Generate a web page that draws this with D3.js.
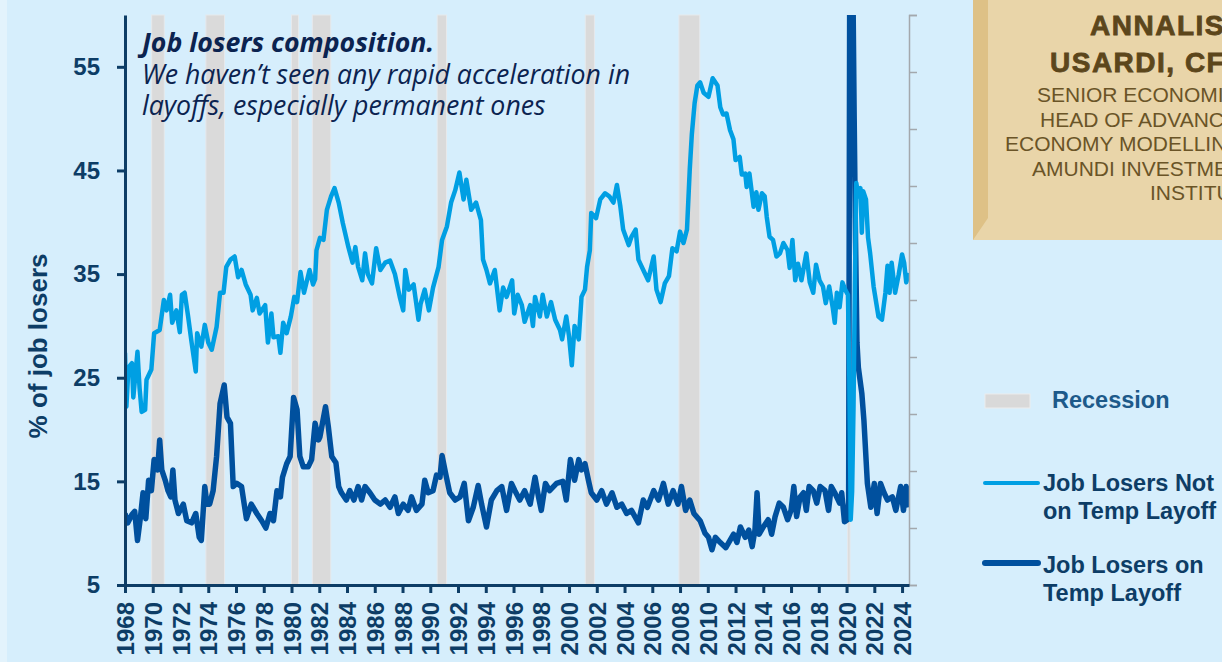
<!DOCTYPE html>
<html>
<head>
<meta charset="utf-8" />
<script src="https://cdn.jsdelivr.net/npm/d3@7"></script>
<style>
  html, body { margin: 0; padding: 0; background: #d6eefc; }
  svg { display: block; }
  .axis text { font-family: "Liberation Sans", Arial, sans-serif; font-weight: bold; fill: #0d3d66; }
</style>
</head>
<body>
<svg id="chart" width="1222" height="662"></svg>
<script>
// NBER recessions [start, end] in decimal years
const recessions = [
  [1969.92, 1970.83], [1973.83, 1975.17], [1980.0, 1980.5], [1981.5, 1982.83],
  [1990.5, 1991.17], [2001.17, 2001.83], [2007.92, 2009.42], [2020.08, 2020.25]
];

// share of unemployed, job losers not on temporary layoff: [year, %]
const notTemp = [
  [1968.0, 27.4], [1968.1, 22.2], [1968.25, 26.0], [1968.5, 26.4], [1968.6, 23.1], [1968.9, 27.5],
  [1969.05, 24.0], [1969.2, 21.7], [1969.45, 21.9], [1969.55, 24.8], [1969.9, 25.8], [1970.1, 29.3],
  [1970.5, 29.6], [1970.8, 32.5], [1971.0, 31.5], [1971.25, 33.0], [1971.4, 30.3], [1971.7, 31.5],
  [1971.95, 29.4], [1972.1, 33.0], [1972.3, 33.2], [1972.55, 30.9], [1972.8, 28.4], [1973.1, 25.6],
  [1973.2, 29.3], [1973.5, 28.0], [1973.75, 30.1], [1974.0, 28.4], [1974.25, 27.7], [1974.6, 29.9],
  [1974.85, 33.2], [1975.1, 33.2], [1975.3, 35.7], [1975.6, 36.4], [1975.9, 36.7], [1976.15, 34.7],
  [1976.4, 35.4], [1976.7, 34.0], [1977.05, 33.0], [1977.2, 31.5], [1977.5, 32.7], [1977.7, 31.2],
  [1978.1, 32.0], [1978.3, 28.4], [1978.55, 31.2], [1978.7, 28.9], [1979.05, 29.0], [1979.2, 27.4],
  [1979.4, 30.3], [1979.65, 29.3], [1979.95, 30.9], [1980.2, 32.8], [1980.4, 32.3], [1980.65, 35.2],
  [1980.9, 33.2], [1981.3, 35.4], [1981.55, 34.0], [1981.7, 34.5], [1981.8, 37.3], [1982.05, 38.5],
  [1982.3, 38.3], [1982.55, 41.2], [1982.85, 42.5], [1983.1, 43.3], [1983.4, 41.9], [1983.7, 39.9],
  [1984.1, 37.6], [1984.4, 36.1], [1984.6, 37.6], [1984.8, 35.7], [1985.1, 34.4], [1985.3, 37.0],
  [1985.5, 35.0], [1985.8, 34.1], [1986.1, 37.5], [1986.4, 35.4], [1986.75, 36.1], [1987.1, 36.3],
  [1987.45, 35.0], [1987.8, 32.8], [1988.05, 31.5], [1988.2, 35.4], [1988.45, 33.5], [1988.8, 34.0],
  [1989.15, 30.6], [1989.3, 32.1], [1989.6, 33.5], [1989.9, 31.5], [1990.2, 33.7], [1990.6, 35.7],
  [1990.85, 38.3], [1991.2, 39.6], [1991.5, 41.9], [1991.8, 43.1], [1992.1, 44.8], [1992.4, 42.2],
  [1992.6, 44.1], [1992.95, 41.2], [1993.3, 41.9], [1993.65, 40.2], [1993.8, 36.4], [1994.05, 35.4],
  [1994.3, 34.1], [1994.65, 35.4], [1995.0, 31.5], [1995.25, 33.7], [1995.5, 32.8], [1995.9, 34.4],
  [1996.05, 31.2], [1996.3, 33.0], [1996.6, 32.0], [1996.8, 30.4], [1997.2, 32.0], [1997.4, 30.0],
  [1997.55, 32.8], [1997.9, 30.9], [1998.1, 33.0], [1998.4, 30.9], [1998.7, 32.3], [1999.0, 30.6],
  [1999.35, 29.6], [1999.5, 28.7], [1999.8, 30.9], [2000.0, 29.0], [2000.2, 26.2], [2000.4, 30.0],
  [2000.7, 28.7], [2000.9, 32.8], [2001.15, 33.5], [2001.3, 35.7], [2001.5, 37.3], [2001.6, 40.9],
  [2001.95, 40.4], [2002.25, 42.2], [2002.6, 42.8], [2002.9, 42.5], [2003.2, 41.9], [2003.45, 43.6],
  [2003.7, 41.5], [2003.9, 39.3], [2004.3, 37.8], [2004.5, 38.6], [2004.8, 39.3], [2005.0, 36.4],
  [2005.35, 35.4], [2005.7, 34.4], [2006.1, 36.7], [2006.3, 33.5], [2006.6, 32.3], [2006.9, 34.1],
  [2007.2, 34.8], [2007.45, 37.5], [2007.75, 37.2], [2008.0, 39.1], [2008.25, 38.0], [2008.5, 39.3],
  [2008.7, 45.1], [2008.85, 48.5], [2009.05, 51.5], [2009.25, 53.2], [2009.45, 53.5], [2009.7, 52.5],
  [2010.05, 52.1], [2010.35, 53.9], [2010.7, 53.2], [2010.9, 51.1], [2011.1, 50.4], [2011.35, 50.5],
  [2011.6, 48.9], [2011.85, 48.0], [2012.0, 46.0], [2012.3, 46.3], [2012.45, 44.6], [2012.7, 44.7],
  [2012.8, 43.4], [2013.0, 44.7], [2013.3, 41.5], [2013.5, 42.9], [2013.65, 41.2], [2013.9, 42.8],
  [2014.1, 42.5], [2014.25, 40.5], [2014.45, 38.6], [2014.7, 38.3], [2014.95, 36.7], [2015.2, 37.0],
  [2015.45, 38.0], [2015.75, 37.3], [2015.9, 35.6], [2016.1, 38.3], [2016.3, 34.4], [2016.5, 36.0],
  [2016.75, 34.4], [2017.1, 37.0], [2017.35, 34.2], [2017.6, 33.2], [2017.8, 35.9], [2018.05, 34.4],
  [2018.3, 33.8], [2018.5, 32.2], [2018.75, 33.8], [2019.0, 31.8], [2019.15, 30.3], [2019.3, 33.2],
  [2019.5, 31.8], [2019.7, 34.2], [2019.9, 33.5], [2020.1, 33.0], [2020.2, 25.0], [2020.3, 11.3],
  [2020.4, 14.0], [2020.5, 22.0], [2020.6, 34.0], [2020.7, 43.8], [2020.85, 42.5], [2021.0, 43.3],
  [2021.1, 39.0], [2021.2, 43.0], [2021.4, 42.2], [2021.55, 38.5], [2021.7, 37.0], [2021.95, 33.8],
  [2022.3, 30.9], [2022.55, 30.6], [2022.8, 33.2], [2022.95, 35.8], [2023.1, 33.2], [2023.25, 36.1],
  [2023.5, 33.2], [2023.75, 34.9], [2024.0, 36.9], [2024.15, 36.1], [2024.3, 34.2], [2024.5, 35.1]
];

// share of unemployed, job losers on temporary layoff: [year, %]
const onTemp = [
  [1968.0, 11.9], [1968.2, 11.0], [1968.35, 11.4], [1968.5, 11.8], [1968.7, 12.1], [1968.9, 9.3],
  [1969.1, 11.4], [1969.3, 13.9], [1969.5, 11.4], [1969.7, 15.1], [1969.9, 14.1], [1970.1, 17.1],
  [1970.35, 16.1], [1970.5, 19.0], [1970.65, 16.1], [1970.9, 15.1], [1971.1, 14.1], [1971.3, 13.5],
  [1971.45, 16.1], [1971.6, 13.2], [1971.85, 11.9], [1972.2, 12.8], [1972.45, 11.2], [1972.8, 11.0],
  [1973.1, 11.9], [1973.35, 9.6], [1973.5, 9.3], [1973.75, 14.5], [1973.9, 12.8], [1974.1, 12.8],
  [1974.35, 14.1], [1974.6, 17.4], [1974.85, 22.5], [1975.15, 24.3], [1975.35, 21.2], [1975.6, 20.6],
  [1975.8, 14.5], [1976.05, 14.8], [1976.4, 14.5], [1976.75, 11.4], [1977.1, 12.8], [1977.5, 11.9],
  [1977.85, 11.2], [1978.15, 10.5], [1978.45, 11.9], [1978.7, 11.2], [1978.95, 14.1], [1979.2, 13.5],
  [1979.35, 15.4], [1979.65, 16.7], [1979.9, 17.4], [1980.15, 23.1], [1980.4, 21.9], [1980.6, 17.4],
  [1980.85, 16.4], [1981.2, 16.4], [1981.45, 17.1], [1981.7, 20.6], [1981.95, 19.0], [1982.05, 19.3],
  [1982.45, 22.2], [1982.65, 20.3], [1982.9, 17.4], [1983.2, 16.8], [1983.4, 14.5], [1983.6, 13.9],
  [1983.95, 13.2], [1984.2, 14.1], [1984.5, 13.2], [1984.8, 14.5], [1985.05, 13.2], [1985.3, 14.5],
  [1985.65, 13.9], [1986.0, 13.2], [1986.4, 12.8], [1986.75, 13.2], [1987.1, 12.5], [1987.45, 13.5],
  [1987.7, 11.9], [1988.05, 12.8], [1988.4, 12.2], [1988.65, 13.5], [1989.0, 12.2], [1989.4, 12.8],
  [1989.6, 15.1], [1989.85, 13.9], [1990.2, 14.1], [1990.45, 15.6], [1990.7, 15.4], [1990.85, 17.5],
  [1991.1, 15.8], [1991.4, 13.9], [1991.8, 13.2], [1992.15, 13.5], [1992.45, 14.8], [1992.75, 11.2],
  [1993.1, 12.5], [1993.45, 14.6], [1993.7, 12.8], [1994.05, 10.6], [1994.4, 13.2], [1994.8, 14.1],
  [1995.15, 14.5], [1995.5, 12.2], [1995.85, 14.8], [1996.1, 14.1], [1996.45, 13.2], [1996.8, 14.1],
  [1997.2, 12.8], [1997.55, 15.4], [1997.8, 13.5], [1998.0, 12.2], [1998.3, 14.8], [1998.6, 14.1],
  [1999.1, 14.8], [1999.55, 15.0], [1999.8, 13.2], [2000.1, 17.1], [2000.4, 15.1], [2000.7, 17.1],
  [2000.9, 16.1], [2001.15, 16.7], [2001.4, 15.1], [2001.6, 13.9], [2002.0, 13.2], [2002.35, 14.1],
  [2002.7, 12.8], [2003.1, 13.9], [2003.45, 12.5], [2003.8, 12.8], [2004.15, 11.9], [2004.5, 12.2],
  [2005.0, 11.0], [2005.35, 13.2], [2005.65, 12.5], [2006.1, 14.1], [2006.45, 13.2], [2006.8, 14.8],
  [2007.15, 12.8], [2007.5, 14.1], [2007.85, 12.8], [2008.1, 14.5], [2008.4, 12.2], [2008.7, 13.2],
  [2009.0, 11.9], [2009.45, 11.2], [2009.8, 10.0], [2010.05, 9.6], [2010.3, 8.4], [2010.55, 9.6],
  [2010.9, 9.1], [2011.3, 8.6], [2011.6, 9.3], [2011.85, 9.9], [2012.1, 9.1], [2012.35, 10.6],
  [2012.7, 9.6], [2012.95, 10.3], [2013.2, 8.7], [2013.4, 10.3], [2013.55, 13.9], [2013.7, 9.9],
  [2014.0, 10.6], [2014.35, 11.3], [2014.6, 9.9], [2014.85, 11.6], [2015.15, 12.9], [2015.45, 12.5],
  [2015.75, 11.3], [2016.0, 12.2], [2016.2, 14.5], [2016.4, 11.6], [2016.65, 13.5], [2016.9, 13.9],
  [2017.1, 12.2], [2017.3, 14.5], [2017.6, 14.1], [2017.85, 12.9], [2018.1, 14.5], [2018.45, 14.1],
  [2018.7, 12.2], [2018.9, 14.5], [2019.15, 13.9], [2019.5, 12.9], [2019.65, 13.9], [2019.85, 11.1],
  [2020.05, 11.3], [2020.15, 13.0], [2020.25, 78.0], [2020.35, 74.0], [2020.45, 64.0], [2020.55, 50.0],
  [2020.65, 38.0], [2020.75, 28.4], [2020.85, 26.0], [2021.1, 23.5], [2021.25, 20.9], [2021.5, 14.8],
  [2021.75, 12.5], [2022.0, 14.8], [2022.2, 11.9], [2022.45, 14.8], [2022.7, 13.9], [2022.95, 13.2],
  [2023.3, 13.5], [2023.55, 12.2], [2023.9, 14.5], [2024.1, 12.2], [2024.3, 14.5], [2024.5, 12.5]
];

const yTicks = [5, 15, 25, 35, 45, 55];
const xTicks = d3.range(1968, 2025, 2);

const titleLines = [
  "Job losers composition.",
  "We haven\u2019t seen any rapid acceleration in",
  "layoffs, especially permanent ones"
];
const nameLines = ["ANNALISA", "USARDI, CFA"];
const roleLines = ["SENIOR ECONOMIST,", "HEAD OF ADVANCED", "ECONOMY MODELLING,", "AMUNDI INVESTMENT", "INSTITUTE"];

const svg = d3.select("#chart");
const W = 1222, H = 662;
const plot = { left: 125, right: 909, top: 15, bottom: 585 };

const navy = "#0d3d66";
const lightBlue = "#009fe3";
const darkBlue = "#00509e";

svg.append("rect").attr("width", W).attr("height", H).attr("fill", "#d6eefc");
svg.append("rect").attr("width", 7).attr("height", H).attr("fill", "#e3f3fc");

const x = d3.scaleLinear().domain([1968, 2024.5]).range([plot.left, plot.right]);
const y = d3.scaleLinear().domain([5, 60]).range([plot.bottom, plot.top]);
const yRight = d3.scaleLinear().domain([0, 10]).range([plot.bottom, plot.top]);

svg.append("clipPath").attr("id", "plotClip")
  .append("rect")
  .attr("x", plot.left).attr("y", plot.top)
  .attr("width", plot.right - plot.left).attr("height", plot.bottom - plot.top);

// recession shading
svg.append("g").selectAll("rect").data(recessions).enter().append("rect")
  .attr("x", (d) => x(d[0]))
  .attr("width", (d) => Math.max(2, x(d[1]) - x(d[0])))
  .attr("y", plot.top)
  .attr("height", plot.bottom - plot.top)
  .attr("fill", "#dadada")
  .attr("stroke", "#e6e9ec")
  .attr("stroke-width", 1);

// title block, one text per line
titleLines.forEach((t, i) => {
  svg.append("text")
    .attr("x", 142)
    .attr("y", 52 + i * 31.5)
    .attr("font-family", "'Open Sans', sans-serif")
    .attr("font-style", "italic")
    .attr("font-weight", i === 0 ? 700 : 400)
    .attr("font-size", 26.7)
    .attr("fill", "#0b2350")
    .text(t);
});

const line = d3.line().x((d) => x(d[0])).y((d) => y(d[1]));

const lines = svg.append("g").attr("clip-path", "url(#plotClip)");
lines.append("path").datum(onTemp)
  .attr("d", line).attr("fill", "none")
  .attr("stroke", darkBlue).attr("stroke-width", 5.5).attr("stroke-linejoin", "round");
lines.append("path").datum(notTemp)
  .attr("d", line).attr("fill", "none")
  .attr("stroke", lightBlue).attr("stroke-width", 4.5).attr("stroke-linejoin", "round");

// right axis (unlabelled)
const rightAxis = svg.append("g")
  .attr("transform", `translate(${plot.right},0)`)
  .call(d3.axisRight(yRight).ticks(10).tickSize(8).tickSizeOuter(8).tickFormat(""));
rightAxis.selectAll("path, line").attr("stroke", "#a3a8ad").attr("stroke-width", 1.5);

// left axis
const leftAxis = svg.append("g").attr("class", "axis")
  .attr("transform", `translate(${plot.left},0)`)
  .call(d3.axisLeft(y).tickValues(yTicks).tickSize(8).tickSizeOuter(0).tickPadding(17));
leftAxis.select(".domain").attr("stroke", navy).attr("stroke-width", 3);
leftAxis.selectAll(".tick line").attr("stroke", navy).attr("stroke-width", 3);
leftAxis.selectAll(".tick text").attr("font-size", 24);

// bottom axis
const bottomAxis = svg.append("g").attr("class", "axis")
  .attr("transform", `translate(0,${plot.bottom})`)
  .call(d3.axisBottom(x).tickValues(xTicks).tickFormat(d3.format("d")).tickSize(8).tickSizeOuter(0));
bottomAxis.select(".domain").attr("stroke", navy).attr("stroke-width", 3);
bottomAxis.selectAll(".tick line").attr("stroke", navy).attr("stroke-width", 3);
bottomAxis.selectAll(".tick text")
  .attr("font-size", 24)
  .attr("text-anchor", "end")
  .attr("transform", "rotate(-90)")
  .attr("x", -17)
  .attr("y", 0)
  .attr("dy", "0.36em");

// y axis title
svg.append("text")
  .attr("transform", "translate(47,346) rotate(-90)")
  .attr("text-anchor", "middle")
  .attr("font-family", "'Liberation Sans', Arial, sans-serif")
  .attr("font-weight", "bold")
  .attr("font-size", 26)
  .attr("fill", navy)
  .text("% of job losers");

// author panel
svg.append("rect").attr("x", 973).attr("y", 0).attr("width", W - 973).attr("height", 240).attr("fill", "#e9d5a9");
svg.append("polygon").attr("points", "973,0 988,0 988,218 973,240").attr("fill", "#dec186");
const nameStarts = [1090, 1050];
nameLines.forEach((t, i) => {
  svg.append("text")
    .attr("x", nameStarts[i]).attr("y", 35 + i * 37)
    .attr("font-family", "'Liberation Sans', Arial, sans-serif")
    .attr("font-weight", "bold")
    .attr("font-size", 28)
    .attr("letter-spacing", 1.5)
    .attr("fill", "#5c461b")
    .attr("stroke", "#5c461b")
    .attr("stroke-width", 0.8)
    .text(t);
});
const roleStarts = [1037, 1040, 1005, 1032, 1150];
roleLines.forEach((t, i) => {
  svg.append("text")
    .attr("x", roleStarts[i]).attr("y", 102 + i * 24.5)
    .attr("font-family", "'Liberation Sans', Arial, sans-serif")
    .attr("font-size", 21)
    .attr("fill", "#6a5427")
    .text(t);
});

// legend
const legend = svg.append("g")
  .attr("font-family", "'Liberation Sans', Arial, sans-serif")
  .attr("font-weight", "bold")
  .attr("font-size", 23.5);
legend.append("rect").attr("x", 985).attr("y", 394).attr("width", 45).attr("height", 14)
  .attr("fill", "#d9d9d9").attr("stroke", "#ececec");
legend.append("text").attr("x", 1052).attr("y", 408).attr("fill", "#1d5a8a").text("Recession");

legend.append("line").attr("x1", 985).attr("x2", 1038).attr("y1", 483).attr("y2", 483)
  .attr("stroke", lightBlue).attr("stroke-width", 4).attr("stroke-linecap", "round");
legend.append("text").attr("x", 1043).attr("y", 491).attr("fill", navy).text("Job Losers Not");
legend.append("text").attr("x", 1043).attr("y", 519).attr("fill", navy).text("on Temp Layoff");

legend.append("line").attr("x1", 985).attr("x2", 1038).attr("y1", 563).attr("y2", 563)
  .attr("stroke", darkBlue).attr("stroke-width", 6).attr("stroke-linecap", "round");
legend.append("text").attr("x", 1043).attr("y", 573).attr("fill", navy).text("Job Losers on");
legend.append("text").attr("x", 1043).attr("y", 601).attr("fill", navy).text("Temp Layoff");
</script>
</body>
</html>
